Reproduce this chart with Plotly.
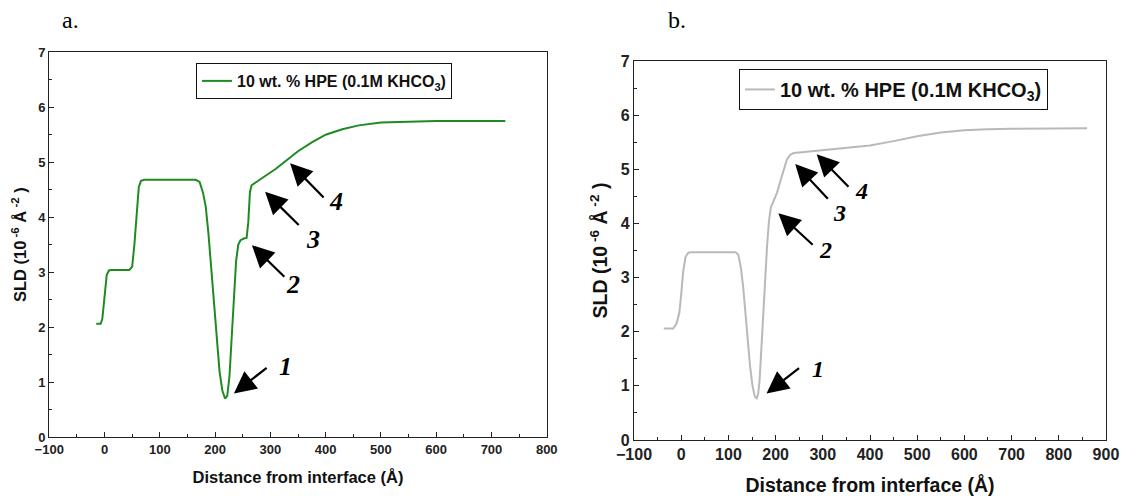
import plotly.graph_objects as go

# ---- Data ----
series_a_name = "10 wt. % HPE (0.1M KHCO<sub>3</sub>)"
a_x = [-15, -7, -4, 0, 4, 8, 12, 45, 50, 54, 58, 62, 66, 72, 165, 172, 178, 183, 188, 193, 198,
       203, 208, 213, 218, 222, 226, 230, 234, 238, 242, 246, 252, 257, 260, 263, 266, 275, 290,
       310, 330, 350, 375, 400, 430, 460, 500, 550, 600, 650, 725]
a_y = [2.06, 2.06, 2.15, 2.6, 2.95, 3.03, 3.04, 3.04, 3.1, 3.5, 4.1, 4.55, 4.66, 4.68, 4.68, 4.64,
       4.45, 4.2, 3.7, 3.1, 2.5, 1.8, 1.2, 0.85, 0.70, 0.75, 1.1, 1.8, 2.6, 3.2, 3.5, 3.58, 3.61,
       3.62, 3.9, 4.45, 4.58, 4.64, 4.74, 4.88, 5.04, 5.2, 5.36, 5.5, 5.6, 5.67, 5.72, 5.74, 5.75,
       5.75, 5.75]

series_b_name = "10 wt. % HPE (0.1M KHCO<sub>3</sub>)"
b_x = [-37, -17, -10, -4, 0, 4, 9, 15, 22, 115, 121, 126, 131, 136, 141, 146, 151, 156, 160, 163,
       166, 170, 174, 178, 182, 186, 190, 196, 203, 210, 217, 224, 231, 238, 250, 275, 300, 350,
       400, 450, 500, 550, 600, 650, 700, 860]
b_y = [2.06, 2.06, 2.15, 2.35, 2.7, 3.1, 3.38, 3.46, 3.47, 3.47, 3.42, 3.2, 2.85, 2.3, 1.75, 1.35,
       1.0, 0.8, 0.77, 0.85, 1.1, 1.7, 2.4, 3.1, 3.6, 4.05, 4.3, 4.42, 4.57, 4.78, 5.0, 5.18, 5.27,
       5.3, 5.31, 5.33, 5.35, 5.39, 5.44, 5.52, 5.61, 5.68, 5.72, 5.74, 5.75, 5.76]

# arrows: (label, head_x, head_y, tail_x, tail_y, label_x, label_y)
arrows_a = [("1", 234, 0.79, 296, 1.28, 328, 1.28),
            ("2", 266.6, 3.49, 328, 2.89, 341, 2.77),
            ("3", 290.5, 4.46, 354, 3.83, 378, 3.6),
            ("4", 335.7, 4.98, 399, 4.33, 418, 4.28)]
arrows_b = [("1", 180.7, 0.86, 252.8, 1.35, 289.7, 1.32),
            ("2", 205.8, 4.19, 281.7, 3.58, 306, 3.51),
            ("3", 241.5, 5.10, 313.6, 4.43, 336, 4.19),
            ("4", 287, 5.28, 357.5, 4.65, 382, 4.59)]

panel_labels = ["a.", "b."]
x_title = "Distance from interface (Å)"
y_title = "SLD (10<sup> -6</sup> Å<sup> -2</sup> )"

SANS = "Liberation Sans, Arial, sans-serif"
SERIF = "Liberation Serif, Times New Roman, serif"

fig = go.Figure()
fig.add_trace(go.Scatter(x=a_x, y=a_y, mode="lines", name=series_a_name,
                         line=dict(color="#1f8a24", width=2), xaxis="x", yaxis="y",
                         legend="legend"))
fig.add_trace(go.Scatter(x=b_x, y=b_y, mode="lines", name=series_b_name,
                         line=dict(color="#b9b9b9", width=2), xaxis="x2", yaxis="y2",
                         legend="legend2"))


def axis(domain, rng, dtick, minor_dtick, fsize, title, tsize, anchor, standoff):
    return dict(domain=domain, range=rng, dtick=dtick, tick0=0, ticks="inside", ticklen=5,
                tickwidth=1.3, tickcolor="#222", showline=True, linecolor="#222", linewidth=1.3,
                mirror=True, showgrid=False, zeroline=False, anchor=anchor, automargin=False,
                tickfont=dict(family=SANS, size=fsize, color="#222", weight="bold"),
                minor=dict(dtick=minor_dtick, ticks="inside", ticklen=3, tickwidth=1.1,
                           tickcolor="#222", showgrid=False),
                title=dict(text=title, font=dict(family=SANS, size=tsize, color="#111",
                                                 weight="bold"), standoff=standoff))


fig.update_layout(
    width=1122, height=496, margin=dict(l=0, r=0, t=0, b=0),
    paper_bgcolor="white", plot_bgcolor="white",
    xaxis=axis([0.0439, 0.4873], [-100, 800], 100, 50, 13, x_title, 16.5, "y", 15),
    yaxis=axis([0.1190, 0.8946], [0, 7], 1, 0.5, 13, y_title, 16.5, "x", 7),
    xaxis2=axis([0.5651, 0.9857], [-100, 900], 100, 50, 16, x_title, 19.5, "y2", 15),
    yaxis2=axis([0.1129, 0.8770], [0, 7], 1, 0.5, 16, y_title, 19.5, "x2", 7),
    legend=dict(x=0.1747, y=0.873, xanchor="left", yanchor="top", bordercolor="#111",
                borderwidth=1, bgcolor="white",
                font=dict(family=SANS, size=16, color="#111", weight="bold")),
    legend2=dict(x=0.6586, y=0.861, xanchor="left", yanchor="top", bordercolor="#111",
                 borderwidth=1, bgcolor="white",
                 font=dict(family=SANS, size=20, color="#111", weight="bold")),
    showlegend=True,
)

ann = []
for (lab, hx, hy, tx, ty, lx, ly), xr, yr, fs in (
        [(a, "x", "y", 26) for a in arrows_a] + [(b, "x2", "y2", 24) for b in arrows_b]):
    ann.append(dict(x=hx, y=hy, ax=tx, ay=ty, xref=xr, yref=yr, axref=xr, ayref=yr,
                    showarrow=True, arrowhead=2, arrowsize=2, arrowwidth=2.2,
                    arrowcolor="black", standoff=0, text=""))
    ann.append(dict(x=lx, y=ly, xref=xr, yref=yr, text=lab, showarrow=False,
                    xanchor="center", yanchor="middle",
                    font=dict(family=SERIF, size=fs, color="black", style="italic",
                              weight="bold")))

for lab, px in zip(panel_labels, [70, 677]):
    ann.append(dict(x=px / 1122, y=1 - 20 / 496, xref="paper", yref="paper", text=lab,
                    showarrow=False, xanchor="center", yanchor="middle",
                    font=dict(family=SERIF, size=24, color="black")))
fig.update_layout(annotations=ann)

fig.write_html("out.html", config={"displayModeBar": False},
               post_script="document.body.style.margin='0px';")
